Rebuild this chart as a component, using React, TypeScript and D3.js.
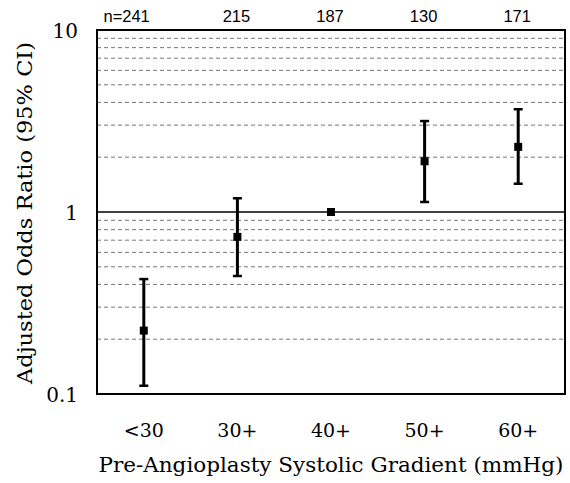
import React from "react";
import * as d3 from "d3";

const categories = ["<30", "30+", "40+", "50+", "60+"];
const counts = ["n=241", "215", "187", "130", "171"];
const oddsRatio = [0.223, 0.73, 1.0, 1.9, 2.28];
const ciLower = [0.111, 0.445, null, 1.135, 1.43];
const ciUpper = [0.428, 1.19, null, 3.16, 3.67];
const yTicks = [0.1, 1, 10];
const gridValues = [0.2, 0.3, 0.4, 0.5, 0.6, 0.7, 0.8, 0.9, 2, 3, 4, 5, 6, 7, 8, 9];

const W = 570, H = 483;
const M = { left: 97, right: 5, top: 30, bottom: 89 };

export default function App() {
  const x = d3.scalePoint<string>().domain(categories).range([M.left, W - M.right]).padding(0.5);
  const y = d3.scaleLog().domain([0.1, 10]).range([H - M.bottom, M.top]);
  const serif = "'DejaVu Serif', serif";
  const sans = "'Liberation Sans', Arial, sans-serif";
  return (
    <svg width={W} height={H} style={{ position: "absolute", left: 0, top: 0, background: "#fff" }}>
      {gridValues.map((g) => (
        <line key={g} x1={M.left} x2={W - M.right} y1={y(g)} y2={y(g)} stroke="#777" strokeWidth={1} strokeDasharray="4,3" />
      ))}
      <line x1={M.left} x2={W - M.right} y1={y(1)} y2={y(1)} stroke="#000" strokeWidth={1.3} />
      <rect x={M.left} y={M.top} width={W - M.left - M.right} height={H - M.top - M.bottom} fill="none" stroke="#000" strokeWidth={2} />
      {categories.map((c, i) => {
        const cx = x(c)!;
        const lo = ciLower[i], hi = ciUpper[i];
        return (
          <g key={c}>
            {lo != null && hi != null && (
              <g stroke="#000">
                <line x1={cx} x2={cx} y1={y(lo)} y2={y(hi)} strokeWidth={3} />
                <line x1={cx - 4.5} x2={cx + 4.5} y1={y(lo)} y2={y(lo)} strokeWidth={2.5} />
                <line x1={cx - 4.5} x2={cx + 4.5} y1={y(hi)} y2={y(hi)} strokeWidth={2.5} />
              </g>
            )}
            <rect x={cx - 4} y={y(oddsRatio[i]) - 4} width={8} height={8} fill="#000" />
            <text x={cx} y={437} textAnchor="middle" fontFamily={serif} fontSize={19}>{c}</text>
            <text x={i === 0 ? cx + 6 : cx - 1} y={22} textAnchor={i === 0 ? "end" : "middle"} fontFamily={sans} fontSize={16.5}>{counts[i]}</text>
          </g>
        );
      })}
      {yTicks.map((t) => (
        <text key={t} x={78} y={y(t) + 7.5} textAnchor="end" fontFamily={serif} fontSize={20}>{String(t)}</text>
      ))}
      <text transform={`translate(32, 213) rotate(-90)`} textAnchor="middle" fontFamily={serif} fontSize={20}
        textLength={342} lengthAdjust="spacingAndGlyphs">
        Adjusted Odds Ratio (95% CI)
      </text>
      <text x={331} y={472} textAnchor="middle" fontFamily={serif} fontSize={20}
        textLength={465} lengthAdjust="spacingAndGlyphs">
        Pre-Angioplasty Systolic Gradient (mmHg)
      </text>
    </svg>
  );
}
